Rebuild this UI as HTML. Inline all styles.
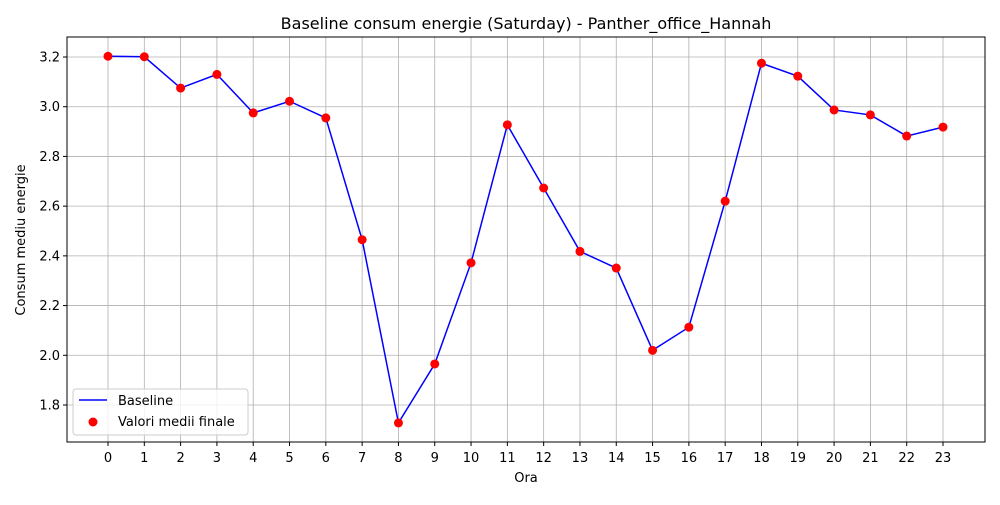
<!DOCTYPE html>
<html><head><meta charset="utf-8"><style>
body{margin:0;background:#fff;font-family:"Liberation Sans",sans-serif}
svg text{font-family:"DejaVu Sans","Liberation Sans",sans-serif;fill:#000}
</style></head><body>
<svg id="chart" width="1000" height="500">
<rect width="1000" height="500" fill="#fff"/>
<g id="grid"></g><g id="ticks"></g><g id="marks"></g>
<rect x="67" y="37" width="918" height="405" fill="none" stroke="#000" stroke-width="1"/>
<text x="526" y="29" font-size="16" text-anchor="middle">Baseline consum energie (Saturday) - Panther_office_Hannah</text>
<text x="526" y="482" font-size="13" text-anchor="middle">Ora</text>
<text x="25" y="240" font-size="13" text-anchor="middle" transform="rotate(-90 25 240)">Consum mediu energie</text>
<g>
<rect x="73" y="389" width="175" height="46" rx="3" fill="#fff" fill-opacity="0.8" stroke="#ccc"/>
<line x1="79" y1="400" x2="107" y2="400" stroke="#0000ff" stroke-width="1.5"/>
<text x="118" y="405" font-size="13">Baseline</text>
<circle cx="93" cy="422" r="4.5" fill="#ff0000"/>
<text x="118" y="426" font-size="13">Valori medii finale</text>
</g>
</svg>
<script>
const hours=[0,1,2,3,4,5,6,7,8,9,10,11,12,13,14,15,16,17,18,19,20,21,22,23];
const values=[3.203,3.201,3.075,3.13,2.975,3.022,2.955,2.465,1.728,1.965,2.372,2.927,2.673,2.418,2.351,2.02,2.113,2.62,3.175,3.123,2.987,2.967,2.882,2.918];
const yTicks=[1.8,2.0,2.2,2.4,2.6,2.8,3.0,3.2];
const yTickLabels=["1.8","2.0","2.2","2.4","2.6","2.8","3.0","3.2"];
const NS="http://www.w3.org/2000/svg";
const X=h=>108+(h-0)*(943-108)/23;
const Y=v=>57+(3.2-v)*(405-57)/1.4;
function mk(tag,attrs,parent){const e=document.createElementNS(NS,tag);for(const k in attrs)e.setAttribute(k,attrs[k]);document.getElementById(parent).appendChild(e);return e;}
hours.forEach(h=>{
 const g=mk('line',{x1:X(h),x2:X(h),y1:37,y2:442,stroke:'#b0b0b0','stroke-width':0.8},'grid');
 
 
 const t=mk('line',{x1:X(h),x2:X(h),y1:442,y2:446,stroke:'#000'},'ticks');
 
 
 const l=mk('text',{x:X(h),y:462,'font-size':13,'text-anchor':'middle'},'ticks');
 l.textContent=String(h);
 
 
});
yTicks.forEach((v,i)=>{
 const g=mk('line',{x1:67,x2:985,y1:Y(v),y2:Y(v),stroke:'#b0b0b0','stroke-width':0.8},'grid');
 
 
 const t=mk('line',{x1:63,x2:67,y1:Y(v),y2:Y(v),stroke:'#000'},'ticks');
 
 
 const l=mk('text',{x:60,y:Y(v)+4.5,'font-size':13,'text-anchor':'end'},'ticks');
 l.textContent=yTickLabels[i];
 
 
});
const line=mk('polyline',{points:hours.map((h,i)=>X(h)+','+Y(values[i])).join(' '),fill:'none',stroke:'#0000ff','stroke-width':1.5},'marks');


hours.forEach((h,i)=>{
 const c=mk('circle',{cx:X(h),cy:Y(values[i]),r:4.5,fill:'#ff0000'},'marks');
 
 
});
</script>
</body></html>
